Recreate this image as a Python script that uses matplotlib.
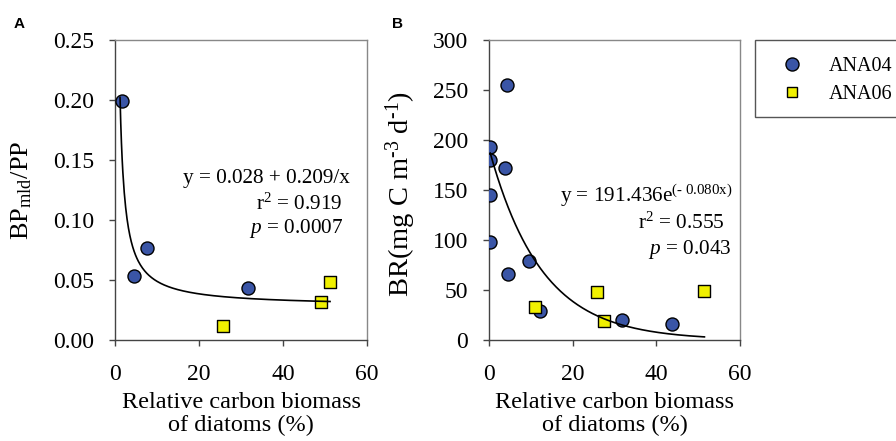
import numpy as np
import matplotlib
matplotlib.use("Agg")
import matplotlib.pyplot as plt
from matplotlib.patches import Rectangle
from matplotlib.lines import Line2D

## fonts: Times-like serif everywhere, math in the same family
plt.rcParams['font.family'] = ['Liberation Serif', 'DejaVu Serif']
plt.rcParams['mathtext.fontset'] = 'custom'
plt.rcParams['mathtext.rm'] = 'Liberation Serif'
plt.rcParams['mathtext.it'] = 'Liberation Serif:italic'

###
# DATA
###
# panel A: BP_mld / PP
a_ana04_x = [1.6, 4.5, 7.7, 31.7]
a_ana04_y = [0.199, 0.053, 0.077, 0.043]
a_ana06_x = [25.6, 49.0, 51.2]
a_ana06_y = [0.012, 0.032, 0.048]

# panel B: BR (mg C m-3 d-1)
b_ana04_x = [0.3, 0.3, 0.3, 0.3, 4.3, 3.8, 4.6, 9.6, 12.2, 31.9, 43.8]
b_ana04_y = [193, 180, 145, 98, 255, 172, 66, 79, 29, 20, 16]
b_ana06_x = [11.0, 25.9, 27.4, 51.4]
b_ana06_y = [33, 48, 19, 49]

# fitted models as printed on the figure
fit_a = (0.028, 0.209)        # y = a + b/x
fit_b = (191.436, -0.080)     # y = a*exp(b*x)

x_ticks = [0, 20, 40, 60]
a_yticks = [0.00, 0.05, 0.10, 0.15, 0.20, 0.25]
b_yticks = [0, 50, 100, 150, 200, 250, 300]

blue = '#3A55A6'
yellow = '#F0F000'
HY = '\u2010'   # plain hyphen so the exponents don't get a wide minus

W, H = 896, 441
fig = plt.figure(figsize=(W / 100, H / 100), dpi=100)


def px(x, y):
    """pixel coords (from top left) to figure fraction"""
    return x / W, 1 - y / H


def style_axes(ax):
    for s in ['left', 'bottom']:
        ax.spines[s].set_color('#444444')
    for s in ['top', 'right']:
        ax.spines[s].set_color('#888888')
    for s in ax.spines.values():
        s.set_linewidth(1.0)
    ax.tick_params(direction='out', length=4, width=1, color='#444444', labelsize=17)
    ax.tick_params(axis='x', pad=13)
    ax.tick_params(axis='y', pad=11)
    ax.set_xlim(0, 60)
    ax.set_xticks(x_ticks)
    ax.set_xlabel('Relative carbon biomass\nof diatoms (%)', fontsize=17.5, linespacing=1.12, labelpad=5)


## ---- panel A
axA = fig.add_axes([115 / W, 101 / H, 252 / W, 300 / H])
style_axes(axA)
axA.scatter(a_ana04_x, a_ana04_y, s=88, c=blue, edgecolors='black', linewidths=1.0, zorder=3)
axA.scatter(a_ana06_x, a_ana06_y, s=64, c=yellow, marker='s', edgecolors='black', linewidths=1.0, zorder=3)
xa = np.linspace(1.2, 51.2, 300)
axA.plot(xa, fit_a[0] + fit_a[1] / xa, color='black', lw=1.2, zorder=4)
axA.set_ylim(0, 0.25)
axA.set_yticks(a_yticks)
axA.set_yticklabels([f'{v:.2f}' for v in a_yticks])
axA.set_ylabel('BP$_{\\rm mld}$/PP', fontsize=19)
axA.yaxis.set_label_coords((34 - 115) / 252, 0.5)

## ---- panel B
axB = fig.add_axes([489 / W, 101 / H, 251 / W, 300 / H])
style_axes(axB)
axB.scatter(b_ana04_x, b_ana04_y, s=88, c=blue, edgecolors='black', linewidths=1.0, zorder=3)
axB.scatter(b_ana06_x, b_ana06_y, s=64, c=yellow, marker='s', edgecolors='black', linewidths=1.0, zorder=3)
xb = np.linspace(0.3, 51.5, 300)
axB.plot(xb, fit_b[0] * np.exp(fit_b[1] * xb), color='black', lw=1.2, zorder=4)
axB.set_ylim(0, 300)
axB.set_yticks(b_yticks)
axB.set_ylabel('BR(mg C m$^{\\rm ' + HY + '3}$ d$^{\\rm ' + HY + '1}$)', fontsize=20.5)
axB.yaxis.set_label_coords((418 - 489) / 251, (340 - 194) / 300)

## ---- equations
fs_eq = 15.3
fig.text(*px(350, 183), 'y = 0.028 + 0.209/x', ha='right', va='baseline', fontsize=fs_eq)
fig.text(*px(343, 210), 'r$^2$ = 0.919', ha='right', va='baseline', fontsize=fs_eq)
fig.text(*px(343, 233), '$\\it{p}$ = 0.0007', ha='right', va='baseline', fontsize=fs_eq)

fig.text(*px(733, 202), 'y = 191.436e$^{\\rm (' + HY + '\\ 0.080x)}$', ha='right', va='baseline', fontsize=fs_eq)
fig.text(*px(725, 229), 'r$^2$ = 0.555', ha='right', va='baseline', fontsize=fs_eq)
fig.text(*px(731, 254), '$\\it{p}$ = 0.043', ha='right', va='baseline', fontsize=fs_eq)

## ---- panel letters
fig.text(*px(14, 28), 'A', fontfamily='Liberation Sans', fontweight='bold', fontsize=11)
fig.text(*px(392, 28), 'B', fontfamily='Liberation Sans', fontweight='bold', fontsize=11)

## ---- legend (box runs off the right edge)
fig.patches.append(Rectangle(px(755, 117), 160 / W, 77 / H, transform=fig.transFigure,
                             facecolor='white', edgecolor='#555555', lw=1.0))
handles = [Line2D([], [], ls='none', marker='o', ms=9.4, mfc=blue, mec='black', mew=1.0),
           Line2D([], [], ls='none', marker='s', ms=7.4, mfc=yellow, mec='black', mew=1.0)]
fig.legend(handles, ['ANA04', 'ANA06'], loc='upper left', bbox_to_anchor=px(780, 57),
           frameon=False, fontsize=14.5, handlelength=1.2, handletextpad=1.2,
           labelspacing=0.45, borderpad=0, borderaxespad=0)

fig.savefig('out.png', dpi=100)
